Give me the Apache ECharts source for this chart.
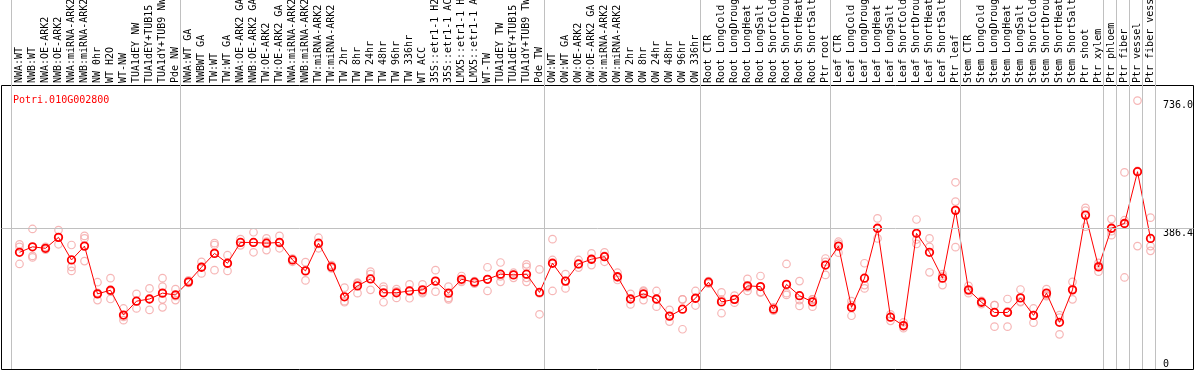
<!DOCTYPE html>
<html>
<head>
<meta charset="utf-8">
<script src="https://cdn.jsdelivr.net/npm/echarts@6/dist/echarts.min.js"></script>
<style>
html, body { margin: 0; padding: 0; background: #fff; }
#chart { width: 1194px; height: 370px; }
</style>
</head>
<body>
<div id="chart"></div>
<script>
const geneId = "Potri.010G002800";

const categories = [
    "NWA:WT", "NWB:WT", "NWA:OE-ARK2", "NWB:OE-ARK2", "NWA:miRNA-ARK2", "NWB:miRNA-ARK2",
    "NW 0hr", "WT H2O", "WT-NW", "TUA1dEY NW", "TUA1dEY+TUB15 NW", "TUA1dY+TUB9 NW", "Pde NW",
    "NWA:WT GA", "NWBWT GA", "TW:WT", "TW:WT GA", "NWA:OE-ARK2 GA", "NWB:OE-ARK2 GA",
    "TW:OE-ARK2", "TW:OE-ARK2 GA", "NWA:miRNA-ARK2", "NWB:miRNA-ARK2", "TW:miRNA-ARK2", "TW:miRNA-ARK2",
    "TW 2hr", "TW 8hr", "TW 24hr", "TW 48hr", "TW 96hr", "TW 336hr", "WT ACC",
    "35S::etr1-1 H2O", "35S::etr1-1 ACC", "LMX5::etr1-1 H2O", "LMX5::etr1-1 ACC",
    "WT-TW", "TUA1dEY TW", "TUA1dEY+TUB15 TW", "TUA1dY+TUB9 TW", "Pde TW",
    "OW:WT", "OW:WT GA", "OW:OE-ARK2", "OW:OE-ARK2 GA", "OW:miRNA-ARK2", "OW:miRNA-ARK2",
    "OW 2hr", "OW 8hr", "OW 24hr", "OW 48hr", "OW 96hr", "OW 336hr",
    "Root CTR", "Root LongCold", "Root LongDrought", "Root LongHeat", "Root LongSalt",
    "Root ShortCold", "Root ShortDrought", "Root ShortHeat", "Root ShortSalt", "Ptr root",
    "Leaf CTR", "Leaf LongCold", "Leaf LongDrought", "Leaf LongHeat", "Leaf LongSalt",
    "Leaf ShortCold", "Leaf ShortDrought", "Leaf ShortHeat", "Leaf ShortSalt", "Ptr leaf",
    "Stem CTR", "Stem LongCold", "Stem LongDrought", "Stem LongHeat", "Stem LongSalt",
    "Stem ShortCold", "Stem ShortDrought", "Stem ShortHeat", "Stem ShortSalt",
    "Ptr shoot", "Ptr xylem", "Ptr phloem", "Ptr fiber", "Ptr vessel", "Ptr fiber vessel"
];

// mean expression per sample
const meanValues = [
    320, 335, 331, 361, 299, 337, 206, 216, 148, 186, 192, 208, 203,
    239, 279, 317, 290, 347, 347, 345, 347, 299, 269, 345, 280, 198, 228, 247, 209, 209,
    214, 217, 241, 208, 246, 238, 246, 260, 258, 260, 210,
    290, 241, 288, 301, 308, 253, 192, 206, 192, 145, 164, 194,
    238, 184, 191, 228, 226, 164, 232, 201, 184, 285,
    337, 169, 249, 386, 142, 119, 372, 320, 249, 435,
    217, 183, 155, 155, 195, 147, 208, 128, 217, 422, 280,
    386, 399, 541, 358
];

// individual replicates per sample
const replicateValues = [
    [342, 335, 288], [384, 310, 306], [335, 330, 327], [381, 361, 342], [340, 280, 269],
    [365, 358, 296], [238, 209, 189], [249, 213, 192], [166, 143, 134], [206, 187, 166],
    [221, 192, 162], [249, 226, 191, 169], [219, 200, 189],
    [243, 239, 236], [294, 280, 262], [345, 340, 271], [312, 288, 269], [356, 347, 339],
    [375, 347, 320], [358, 349, 326], [365, 345, 331], [303, 299, 294], [293, 270, 243],
    [360, 343, 331], [285, 280, 276], [223, 186, 183], [237, 234, 208], [267, 260, 217],
    [226, 219, 183], [219, 213, 195], [232, 215, 194], [232, 211, 208], [271, 241, 212],
    [226, 195, 191], [255, 243, 239], [241, 238, 234], [279, 245, 214], [292, 254, 239],
    [264, 259, 250], [287, 280, 250, 239], [273, 207, 150],
    [356, 299, 214], [260, 242, 221], [299, 287, 278], [317, 300, 285], [320, 310, 294],
    [264, 251, 244], [206, 192, 177], [215, 212, 189], [214, 191, 171], [162, 145, 130],
    [191, 191, 109], [214, 194, 174],
    [241, 238, 234], [210, 190, 153], [201, 191, 182], [247, 224, 214], [255, 211, 210],
    [169, 164, 160], [288, 208, 203], [241, 189, 173], [191, 191, 171], [303, 294, 258],
    [349, 344, 319], [186, 175, 146], [290, 230, 221], [413, 386, 358], [150, 142, 132],
    [128, 117, 112], [410, 355, 343], [358, 335, 265], [260, 255, 230], [512, 459, 334],
    [228, 214, 208], [187, 183, 178], [175, 175, 116], [192, 158, 116], [218, 185, 183],
    [166, 148, 127], [219, 203, 200], [148, 141, 95], [239, 219, 191], [442, 434, 390],
    [291, 283, 267],
    [411, 378, 367], [539, 408, 251], [736, 543, 337], [415, 337, 324]
];

const yTickLabels = [0, 386.4, 736.0];
const refLine = 386.4;
// band boundaries where the sample groups change
const groupBreaks = [0, 13, 41, 53, 63, 73, 84, 85, 86, 87, 88];

let replicatePoints = [];
replicateValues.forEach((reps, i) => {
    reps.forEach(v => replicatePoints.push([i, v]));
});

let mono = "'DejaVu Sans Mono', monospace";
let yMax = 776;

let chart = echarts.init(document.getElementById("chart"));
let option = {
    animation: false,
    backgroundColor: "#fff",
    title: {
        text: geneId,
        left: 8,
        top: 90,
        textStyle: { color: "#ff0000", fontSize: 10, fontFamily: mono, fontWeight: "normal" }
    },
    grid: [
        { left: 13, right: 37, top: 86, bottom: 1, outerBoundsMode: "none", containLabel: false },
        { left: 11.5, right: 38.5, top: 0, bottom: 1, outerBoundsMode: "none", containLabel: false },
        {
            left: 1.5, right: 0.5, top: 85.5, bottom: 0.5,
            outerBoundsMode: "none", containLabel: false,
            show: true, borderColor: "#000", borderWidth: 1
        }
    ],
    xAxis: [
        {
            gridIndex: 0,
            type: "category",
            data: categories,
            position: "top",
            boundaryGap: true,
            axisLine: { show: false },
            axisTick: { show: false },
            splitLine: { show: false },
            axisLabel: { interval: 0, rotate: 90, margin: 3, fontSize: 10, fontFamily: mono, color: "#000" }
        },
        { gridIndex: 1, type: "value", min: 0, max: categories.length, show: false },
        { gridIndex: 2, type: "value", min: 0, max: 1, show: false }
    ],
    yAxis: [
        {
            gridIndex: 0,
            type: "value",
            min: 0,
            max: yMax,
            position: "right",
            axisLine: { show: false },
            axisTick: { show: false },
            splitLine: { show: false },
            axisLabel: {
                customValues: yTickLabels,
                formatter: v => (v === 0 ? "0" : v.toFixed(1)),
                margin: 6,
                verticalAlign: "top",
                verticalAlignMinLabel: "bottom",
                fontSize: 10,
                fontFamily: mono,
                color: "#000"
            }
        },
        { gridIndex: 1, type: "value", min: 0, max: 1, show: false },
        { gridIndex: 2, type: "value", min: 0, max: 778, show: false }
    ],
    series: [
        {
            type: "line",
            xAxisIndex: 2,
            yAxisIndex: 2,
            data: [],
            silent: true,
            markLine: {
                silent: true,
                symbol: ["none", "none"],
                label: { show: false },
                lineStyle: { color: "#c0c0c0", width: 1, type: "solid" },
                data: [{ yAxis: refLine }]
            }
        },
        {
            type: "line",
            xAxisIndex: 1,
            yAxisIndex: 1,
            data: [],
            silent: true,
            markLine: {
                silent: true,
                symbol: ["none", "none"],
                label: { show: false },
                lineStyle: { color: "#c0c0c0", width: 1, type: "solid" },
                data: groupBreaks.map(b => ({ xAxis: b }))
            }
        },
        {
            type: "scatter",
            xAxisIndex: 0,
            yAxisIndex: 0,
            data: replicatePoints,
            symbol: "circle",
            symbolSize: 7.5,
            silent: true,
            itemStyle: { color: "rgba(0,0,0,0)", borderColor: "#f4a4a4", borderWidth: 1.2 },
            z: 3
        },
        {
            type: "line",
            name: geneId,
            xAxisIndex: 0,
            yAxisIndex: 0,
            data: meanValues,
            symbol: "circle",
            symbolSize: 7.5,
            showAllSymbol: true,
            silent: true,
            lineStyle: { color: "#ff0000", width: 1 },
            itemStyle: { color: "rgba(0,0,0,0)", borderColor: "#ff0000", borderWidth: 1.8 },
            z: 4
        }
    ]
};
chart.setOption(option);
</script>
</body>
</html>
